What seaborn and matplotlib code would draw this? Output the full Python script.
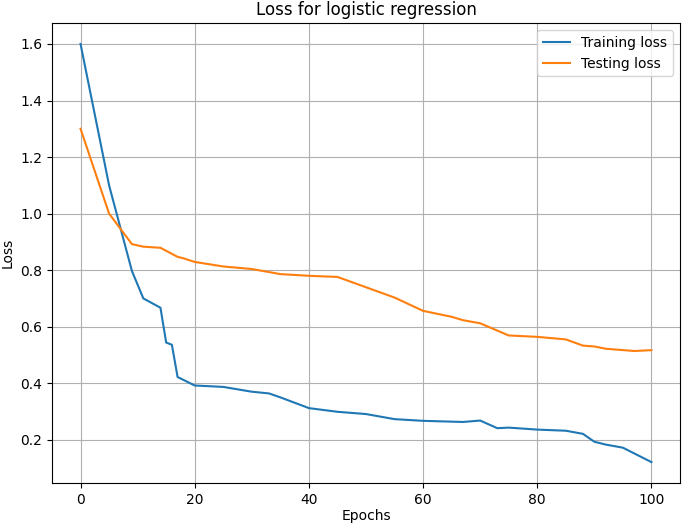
import numpy as np
import pandas as pd
import matplotlib
matplotlib.use("Agg")
import matplotlib.pyplot as plt
import seaborn as sns

# values
train_epochs = [0, 5, 9, 11, 14, 15, 16, 17, 20, 25, 30, 33, 35, 40, 45, 50, 55, 60,
                67, 70, 73, 75, 80, 85, 88, 90, 92, 95, 100]
train_loss = [1.6, 1.1, 0.797, 0.70, 0.667, 0.544, 0.536, 0.422, 0.392, 0.387, 0.37,
              0.364, 0.35, 0.312, 0.299, 0.291, 0.273, 0.267, 0.263, 0.268, 0.241,
              0.243, 0.236, 0.232, 0.221, 0.193, 0.183, 0.172, 0.121]

test_epochs = [0, 5, 9, 11, 14, 17, 18, 20, 25, 30, 35, 40, 45, 55, 60, 65, 67, 70,
               75, 80, 85, 88, 90, 92, 97, 100]
test_loss = [1.3, 1.0, 0.892, 0.883, 0.879, 0.847, 0.842, 0.829, 0.813, 0.804, 0.786,
             0.78, 0.776, 0.703, 0.656, 0.635, 0.623, 0.612, 0.569, 0.564, 0.555,
             0.533, 0.53, 0.522, 0.514, 0.517]

train_df = pd.DataFrame({"epoch": train_epochs, "loss": train_loss})
test_df = pd.DataFrame({"epoch": test_epochs, "loss": test_loss})

fig = plt.figure(figsize=(6.85, 5.24), dpi=100)
ax = fig.add_axes([0.0759, 0.0782, 0.9168, 0.8778])

sns.lineplot(data=train_df, x="epoch", y="loss", ax=ax, color="#1f77b4",
             label="Training loss", linewidth=1.5)
sns.lineplot(data=test_df, x="epoch", y="loss", ax=ax, color="#ff7f0e",
             label="Testing loss", linewidth=1.5)

ax.set_title("Loss for logistic regression")
ax.set_xlabel("Epochs", labelpad=1.5)
ax.set_ylabel("Loss")
ax.grid(True)
ax.legend(loc="upper right")

fig.savefig("out.png", dpi=100)
